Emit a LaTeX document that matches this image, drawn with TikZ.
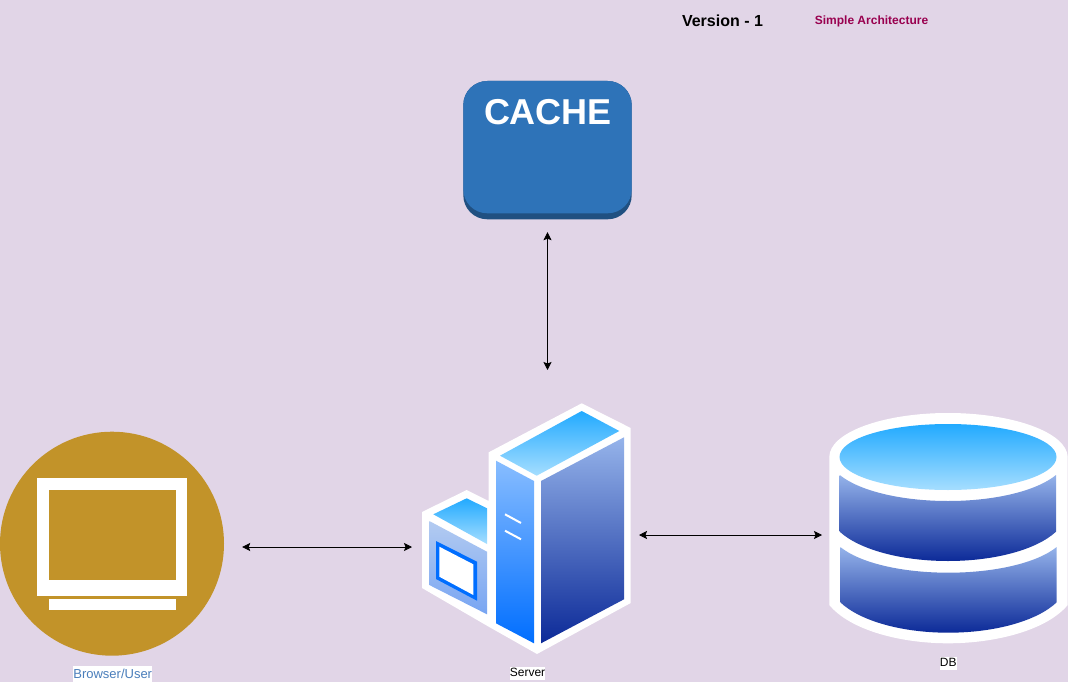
\documentclass[tikz,border=0pt]{standalone}
\usepackage{fontspec}
\setmainfont{Liberation Sans}
\usetikzlibrary{arrows.meta,fit}
\definecolor{pagebg}{HTML}{E1D5E7}
\definecolor{cacheblue}{HTML}{2E73B8}
\definecolor{cachedark}{HTML}{205081}
\definecolor{browsergold}{HTML}{C29329}
\definecolor{labelblue}{HTML}{4A7EBB}
\definecolor{titlered}{HTML}{99004F}
\definecolor{topdark}{HTML}{22AAFF}
\definecolor{toplight}{HTML}{A6DEFF}
\definecolor{sidelight}{HTML}{95B3EA}
\definecolor{sidedark}{HTML}{0C2A98}
\definecolor{frontlight}{HTML}{88BDFF}
\definecolor{frontdark}{HTML}{006EFF}
\definecolor{boxlight}{HTML}{B3CBF1}
\definecolor{boxdark}{HTML}{78A5F2}

\begin{document}
\begin{tikzpicture}[x=1pt,y=-1pt]
    % `topface' and `sideface' are the shaded faces of the server and the DB.
    % `link' is used for the double arrows, `caption' for the white labels.
    \tikzstyle{topface} = [top color=topdark,bottom color=toplight]
    \tikzstyle{sideface} = [top color=sidelight,bottom color=sidedark]
    \tikzstyle{frontface} = [top color=frontlight,bottom color=frontdark]
    \tikzstyle{boxface} = [top color=boxlight,bottom color=boxdark]
    \tikzstyle{cachebox} = [rounded corners=24pt,minimum width=168.4pt,inner sep=0pt]
    \tikzstyle{caption} = [fill=white,inner xsep=0pt,inner ysep=0pt,text height=9.5pt,text depth=3.5pt,font=\fontsize{12}{12}\selectfont]
    \tikzstyle{link} = [line width=0.75pt,{Stealth[length=8pt,width=8pt,inset=1.5pt]}-{Stealth[length=8pt,width=8pt,inset=1.5pt]}]
    \tikzstyle{slit} = [white,line width=2pt]
    \tikzstyle{extent} = [inner sep=0pt,outer sep=0pt]
    %
    \useasboundingbox (0,0) rectangle (1068,682);
    \fill[pagebg] (0,0) rectangle (1068,682);
    % Titles.
    \node[font=\fontsize{16}{16}\selectfont\bfseries] (version) at (722.5,21) {Version - 1};
    \node[font=\fontsize{12}{12}\selectfont\bfseries,text=titlered] (title) at (871.5,21.5) {Simple Architecture};
    % Cache.
    \node[cachebox,fill=cachedark,minimum height=138.3pt] (cache) at (547.5,150.15) {};
    \node[cachebox,fill=cacheblue,minimum height=132.3pt] (cachetop) at (547.5,147.15) {};
    \node[text=white,font=\fontsize{36}{36}\selectfont\bfseries] (cachetext) at (548,112) {CACHE};
    % Browser.
    \node[circle,fill=browsergold,minimum size=224pt,inner sep=0pt] (browser) at (112,543.7) {};
    \fill[white] (37,478) rectangle (187,595.5);
    \fill[browsergold] (49,489.7) rectangle (175.7,580.3);
    \fill[white] (49,599) rectangle (175.7,610);
    \node[caption,text=labelblue,text height=12.5pt,text depth=3.5pt,font=\fontsize{13}{13}\selectfont] (browserlabel) at (112.7,673.7) {Browser/User};
    % Server.
    \coordinate (srvnw) at (422,403);
    \coordinate (srvse) at (630.7,654);
    \node[extent,fit=(srvnw) (srvse)] (server) {};
    \fill[white] (422,588) -- (422,512) -- (466.7,490) -- (488.7,501) -- (488.7,452.3)
      -- (581.7,403.3) -- (630.7,428) -- (630.7,603) -- (537,654) -- (488.7,626.7) -- cycle;
    \shade[topface] (466.7,498.3) -- (487,508.3) -- (487,544) -- (433.3,514.3) -- cycle;
    \shade[boxface] (429.3,521) -- (487,551.7) -- (487,614.3) -- (429.3,585) -- cycle;
    \fill[frontdark] (436,541) -- (477,561.7) -- (477,600.7) -- (436,579) -- cycle;
    \fill[white] (439.3,546.7) -- (473.3,564.3) -- (473.3,595) -- (439.3,576.7) -- cycle;
    \shade[topface] (581.7,411) -- (619.3,431) -- (536.7,475.7) -- (500,455.7) -- cycle;
    \shade[frontface] (496,460.7) -- (534,481) -- (534,643.3) -- (496,623.3) -- cycle;
    \shade[sideface] (541,481) -- (624,437.3) -- (624,599.3) -- (541,643.3) -- cycle;
    \draw[slit] (505,514.3) -- (521,523);
    \draw[slit] (505,530.7) -- (521,539.3);
    \node[caption] (serverlabel) at (527.5,673.5) {Server};
    % DB.
    \coordinate (dbnw) at (829.3,413);
    \coordinate (dbse) at (1067.7,643.3);
    \node[extent,fit=(dbnw) (dbse)] (db) {};
    \fill[white] (829.3,457) .. controls (829.3,432.7) and (882.5,413) .. (948,413)
      .. controls (1013.5,413) and (1067,432.7) .. (1067.7,457) -- (1067.7,605)
      .. controls (1047,630) and (996,643.3) .. (948,643.3)
      .. controls (900,643.3) and (850,630) .. (829.3,605) -- cycle;
    \shade[topface] (948,457) ellipse [x radius=108.5,y radius=33];
    \shade[sideface] (839.7,475) .. controls (859.6,491.1) and (901.7,501) .. (948,501)
      .. controls (994.3,501) and (1036.4,491.1) .. (1056,475) -- (1056,531.7)
      .. controls (1036.4,549.8) and (994.3,561) .. (948,561)
      .. controls (901.7,561) and (859.6,549.8) .. (839.7,531.7) -- cycle;
    \shade[sideface] (840.3,547) .. controls (860,563) and (902,572.7) .. (948.3,572.7)
      .. controls (994.6,572.7) and (1037,563) .. (1056.7,547) -- (1056.7,602.3)
      .. controls (1037,621) and (994.6,632.7) .. (948.3,632.7)
      .. controls (902,632.7) and (860,621) .. (840.3,602.3) -- cycle;
    \node[caption] (dblabel) at (948.3,663.4) {DB};
    % Draw lines.
    \draw[link] ([shift={(0,12.7)}]cache.south) -- ([shift={(0,-33)}]cache.south |- server.north);
    \draw[link] ([shift={(18,3.3)}]browser.east) -- ([shift={(-10,18.5)}]server.west);
    \draw[link] ([shift={(8.3,6.5)}]server.east) -- ([shift={(-7.3,6.5)}]db.west |- server.east);
\end{tikzpicture}
\end{document}
